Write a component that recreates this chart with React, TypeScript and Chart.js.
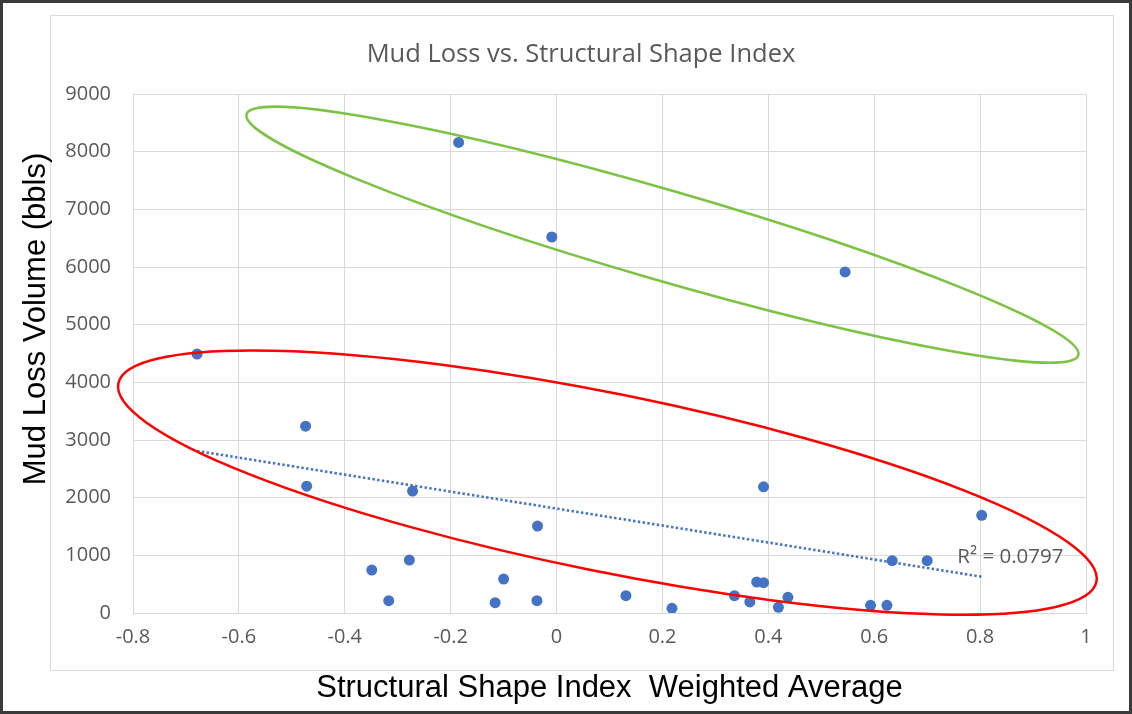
import React, { useEffect, useRef } from "react";
import { Chart, registerables } from "chart.js";

Chart.register(...registerables);

// ---- data ----
const ssiValues = [
  -0.679, -0.474, -0.472, -0.185, -0.009, 0.545, -0.272, -0.349, -0.317, -0.278,
  -0.1, -0.116, -0.037, -0.036, 0.391, 0.803, 0.131, 0.218, 0.336, 0.365,
  0.378, 0.391, 0.419, 0.437, 0.593, 0.624, 0.634, 0.7,
];
const mudLossValues = [
  4490, 3240, 2200, 8160, 6520, 5915, 2115, 745, 213, 918,
  589, 179, 213, 1508, 2189, 1693, 300, 81, 300, 191,
  537, 525, 98, 272, 133, 133, 907, 907,
];
const trendX = [-0.679, 0.803];
const trendY = [2810, 629];
const r2Text = "R² = 0.0797";

const chartTitle = "Mud Loss vs. Structural Shape Index";
const xTitle = "Structural Shape Index  Weighted Average";
const yTitle = "Mud Loss Volume (bbls)";

// annotation ellipses (centre in data units, radii in px, angle in degrees)
const ellipseCentersX = [0.2, 0.096];
const ellipseCentersY = [6560, 2262];
const ellipseRadiusA = [433, 499];
const ellipseRadiusB = [45, 89];
const ellipseAngles = [16.15, 11.47];
const ellipseColors = ["#7cc243", "#ff0000"];

const r2LabelX = 0.757;
const r2LabelY = 970;

const overlayPlugin = {
  id: "overlay",
  beforeDraw(chart: any) {
    const ctx = chart.ctx;
    ctx.save();
    ctx.strokeStyle = "#d9d9d9";
    ctx.lineWidth = 1;
    ctx.strokeRect(47.5, 12.5, 1110.5 - 47.5, 667.5 - 12.5);
    // chart title
    ctx.fillStyle = "#595959";
    ctx.font = "25.5px 'Open Sans'";
    ctx.textAlign = "center";
    ctx.textBaseline = "middle";
    ctx.fillText(chartTitle, 578, 52);
    ctx.restore();
  },
  afterDatasetsDraw(chart: any) {
    const ctx = chart.ctx;
    const xs = chart.scales.x;
    const ys = chart.scales.y;
    ctx.save();
    // R² label
    ctx.fillStyle = "#595959";
    ctx.font = "20.5px 'Open Sans'";
    ctx.textAlign = "left";
    ctx.textBaseline = "middle";
    ctx.fillText(r2Text, xs.getPixelForValue(r2LabelX), ys.getPixelForValue(r2LabelY));
    // ellipses
    for (let i = 0; i < ellipseCentersX.length; i++) {
      ctx.beginPath();
      ctx.ellipse(
        xs.getPixelForValue(ellipseCentersX[i]),
        ys.getPixelForValue(ellipseCentersY[i]),
        ellipseRadiusA[i],
        ellipseRadiusB[i],
        (ellipseAngles[i] * Math.PI) / 180,
        0,
        Math.PI * 2
      );
      ctx.strokeStyle = ellipseColors[i];
      ctx.lineWidth = 2.5;
      ctx.stroke();
    }
    // y axis title
    ctx.fillStyle = "#000000";
    ctx.font = "31px 'Liberation Sans'";
    ctx.textAlign = "center";
    ctx.textBaseline = "middle";
    ctx.translate(33, 316);
    ctx.rotate(-Math.PI / 2);
    ctx.fillText(yTitle, 0, 0);
    ctx.restore();
  },
};

export default function App() {
  const canvasRef = useRef<HTMLCanvasElement | null>(null);

  useEffect(() => {
    document.body.style.margin = "0";
    const canvas = canvasRef.current;
    if (!canvas) return;
    const points = ssiValues.map((x, i) => ({ x, y: mudLossValues[i] }));
    const trend = trendX.map((x, i) => ({ x, y: trendY[i] }));
    const chart = new Chart(canvas, {
      type: "scatter",
      data: {
        datasets: [
          {
            label: "Mud loss",
            data: points,
            backgroundColor: "#4472C4",
            borderColor: "#4472C4",
            pointRadius: 5.5,
            pointBorderWidth: 0,
          },
          {
            label: "Linear trend",
            data: trend,
            showLine: true,
            borderColor: "#4472C4",
            borderWidth: 2.6,
            borderDash: [2.4, 2.4],
            pointRadius: 0,
            fill: false,
          } as any,
        ],
      },
      options: {
        animation: false,
        responsive: false,
        events: [],
        layout: { padding: { left: 0, right: 43, top: 91, bottom: 0 } },
        plugins: {
          legend: { display: false },
          tooltip: { enabled: false },
          title: { display: false },
        },
        scales: {
          x: {
            type: "linear",
            min: -0.8,
            max: 1,
            afterFit: (s: any) => {
              s.height = 98;
            },
            ticks: {
              stepSize: 0.2,
              padding: 12,
              color: "#595959",
              font: { family: "'Open Sans'", size: 20 },
              callback: (v: any) => String(Number(Number(v).toFixed(1))),
            },
            grid: { color: "#d9d9d9", lineWidth: 1, drawTicks: false },
            border: { color: "#d9d9d9" },
            title: {
              display: true,
              text: xTitle,
              color: "#000000",
              font: { family: "'Liberation Sans'", size: 31 },
              padding: { top: 0, bottom: 4 },
            },
          },
          y: {
            type: "linear",
            min: 0,
            max: 9000,
            afterFit: (s: any) => {
              s.width = 130;
            },
            ticks: {
              stepSize: 1000,
              padding: 22,
              color: "#595959",
              font: { family: "'Open Sans'", size: 20 },
              callback: (v: any) => String(Math.round(Number(v))),
            },
            grid: { color: "#d9d9d9", lineWidth: 1, drawTicks: false },
            border: { color: "#d9d9d9" },
          },
        },
      },
      plugins: [overlayPlugin],
    });
    return () => chart.destroy();
  }, []);

  return (
    <div
      style={{
        width: 1132,
        height: 714,
        boxSizing: "border-box",
        border: "3px solid #3a3a3a",
        background: "#ffffff",
      }}
    >
      <canvas ref={canvasRef} width={1126} height={708} style={{ display: "block" }} />
    </div>
  );
}
